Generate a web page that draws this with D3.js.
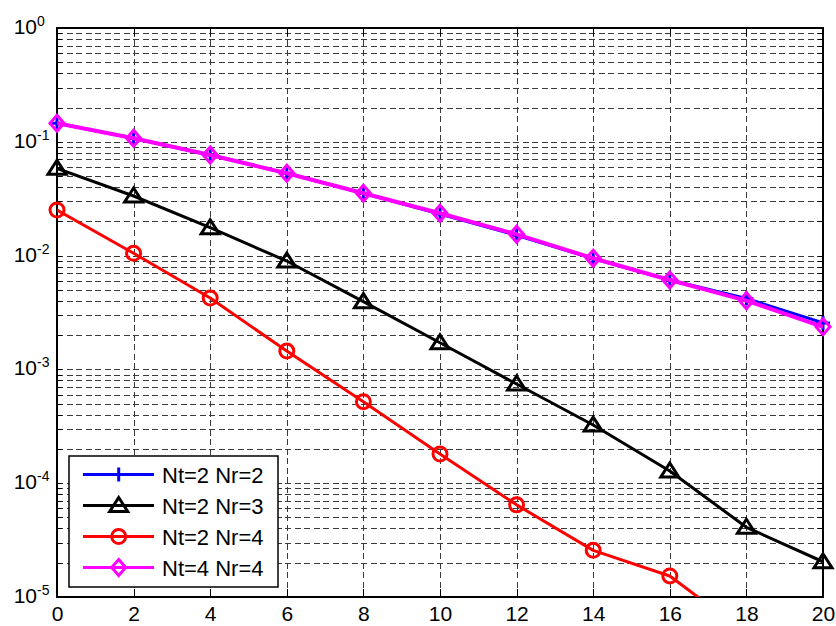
<!DOCTYPE html>
<html>
<head>
<meta charset="utf-8">
<script src="https://cdnjs.cloudflare.com/ajax/libs/d3/7.8.5/d3.min.js"></script>
<style>
  body { margin: 0; background: #fff; }
  svg { display: block; font-family: Arial, "Liberation Sans", sans-serif; }
  .grid line { stroke: #3a3a3a; stroke-width: 1; stroke-dasharray: 6,3.5; shape-rendering: crispEdges; }
  .grid path { display: none; }
  .tick-axis path { display: none; }
  .tick-axis line { stroke: #000; stroke-width: 1; shape-rendering: crispEdges; }
  .tick-axis text { font-size: 21px; fill: #000; }
</style>
</head>
<body>
<svg id="chart" width="836" height="626"></svg>
<script>
'use strict';

// SNR (dB) on x, BER on log y
const snr = [0, 2, 4, 6, 8, 10, 12, 14, 16, 18, 20];
const berNt2Nr2 = [0.1454, 0.1074, 0.0766, 0.0529, 0.0353, 0.0232, 0.0151, 0.0094, 0.0061, 0.0042, 0.00256];
const berNt2Nr3 = [0.0585, 0.0334, 0.01758, 0.00896, 0.00394, 0.001716, 0.000744, 0.000325, 0.000128, 4.1e-5, 2.04e-5];
const berNt2Nr4 = [0.02516, 0.01048, 0.00424, 0.00145, 0.00052, 0.0001805, 6.45e-5, 2.57e-5, 1.53e-5, 4.8e-6, 1.6e-6];
const berNt4Nr4 = [0.1454, 0.1074, 0.0766, 0.0529, 0.03527, 0.02353, 0.01539, 0.00947, 0.0061, 0.00402, 0.00237];
const xTicks = [0, 2, 4, 6, 8, 10, 12, 14, 16, 18, 20];
const yDecades = [-5, -4, -3, -2, -1, 0];
const seriesNames = ['Nt=2 Nr=2', 'Nt=2 Nr=3', 'Nt=2 Nr=4', 'Nt=4 Nr=4'];

const series = [
  { name: seriesNames[0], values: berNt2Nr2, color: '#0000ff', marker: 'plus', width: 3 },
  { name: seriesNames[1], values: berNt2Nr3, color: '#000000', marker: 'triangle', width: 3 },
  { name: seriesNames[2], values: berNt2Nr4, color: '#ff0000', marker: 'circle', width: 3 },
  { name: seriesNames[3], values: berNt4Nr4, color: '#ff00ff', marker: 'diamond', width: 4 }
];

const margin = { left: 57, right: 823, top: 28, bottom: 597 };
const svg = d3.select('#chart');

const x = d3.scaleLinear().domain([0, 20]).range([margin.left, margin.right]);
const y = d3.scaleLog().domain([1e-5, 1]).range([margin.bottom, margin.top]);

// all minor + major log ticks
const yTicks = [];
yDecades.forEach(k => {
  if (k === 0) { yTicks.push(1); return; }
  for (let m = 1; m <= 9; m++) yTicks.push(m * Math.pow(10, k));
});

const plotW = margin.right - margin.left;
const plotH = margin.bottom - margin.top;

svg.append('defs').append('clipPath').attr('id', 'plot-clip')
  .append('rect')
  .attr('x', margin.left).attr('y', margin.top)
  .attr('width', plotW).attr('height', plotH);

// grid
svg.append('g').attr('class', 'grid')
  .attr('transform', `translate(0,${margin.bottom})`)
  .call(d3.axisBottom(x).tickValues(xTicks.slice(1, -1)).tickSize(-plotH).tickFormat(''));
svg.append('g').attr('class', 'grid')
  .attr('transform', `translate(${margin.left},0)`)
  .call(d3.axisLeft(y).tickValues(yTicks.filter(v => v > 1e-5 && v < 1)).tickSize(-plotW).tickFormat(''));

// inward ticks on all four sides
svg.append('g').attr('class', 'tick-axis')
  .attr('transform', `translate(0,${margin.bottom})`)
  .call(d3.axisBottom(x).tickValues(xTicks).tickSize(-8).tickPadding(16).tickFormat(d3.format('d')))
  .selectAll('text').attr('dy', '0.71em').attr('y', 9);
svg.append('g').attr('class', 'tick-axis')
  .attr('transform', `translate(0,${margin.top})`)
  .call(d3.axisTop(x).tickValues(xTicks).tickSize(-8).tickFormat(''));
svg.append('g').attr('class', 'tick-axis')
  .attr('transform', `translate(${margin.left},0)`)
  .call(d3.axisLeft(y).tickValues(yTicks).tickSize(-5).tickFormat(''));
svg.append('g').attr('class', 'tick-axis')
  .attr('transform', `translate(${margin.right},0)`)
  .call(d3.axisRight(y).tickValues(yTicks).tickSize(-5).tickFormat(''));

// y labels as 10^k
const yLab = svg.append('g');
yDecades.forEach(k => {
  const ty = y(Math.pow(10, k));
  yLab.append('text')
    .attr('x', 37).attr('y', ty + 6)
    .attr('text-anchor', 'end')
    .style('font-size', '21px')
    .text('10');
  yLab.append('text')
    .attr('x', 37).attr('y', ty - 2)
    .style('font-size', '14px')
    .text(k === 0 ? '0' : '-' + Math.abs(k));
});

// box
svg.append('rect')
  .attr('x', margin.left).attr('y', margin.top)
  .attr('width', plotW).attr('height', plotH)
  .attr('fill', 'none').attr('stroke', '#000').attr('stroke-width', 2);

const drawMarker = (sel, type, color, cx, cy) => {
  const g = sel.append('g').attr('transform', `translate(${cx},${cy})`)
    .attr('fill', 'none').attr('stroke', color).attr('stroke-width', 3);
  if (type === 'plus') {
    g.append('path').attr('d', 'M-7,0H7M0,-7V7');
  } else if (type === 'triangle') {
    g.append('path').attr('d', 'M0,-8L9,6H-9Z').attr('stroke-linejoin', 'miter');
  } else if (type === 'circle') {
    g.append('circle').attr('r', 7);
  } else if (type === 'diamond') {
    g.append('path').attr('d', 'M0,-8L7,0L0,8L-7,0Z');
  }
};

const line = d3.line().x((d, i) => x(snr[i])).y(d => y(d));

const plot = svg.append('g');
series.forEach(s => {
  const g = plot.append('g').attr('clip-path', 'url(#plot-clip)');
  g.append('path')
    .datum(s.values)
    .attr('d', line)
    .attr('fill', 'none')
    .attr('stroke', s.color)
    .attr('stroke-width', s.width)
    .attr('stroke-linejoin', 'round');
  const mg = plot.append('g');
  s.values.forEach((v, i) => {
    if (v >= 1e-5) drawMarker(mg, s.marker, s.color, x(snr[i]), y(v));
  });
});

// legend
const legend = svg.append('g').attr('transform', 'translate(69,456)');
legend.append('rect')
  .attr('width', 209).attr('height', 131)
  .attr('fill', '#fff').attr('stroke', '#000').attr('stroke-width', 1.5);
series.forEach((s, i) => {
  const ly = 18.5 + i * 31;
  legend.append('line')
    .attr('x1', 14).attr('x2', 85).attr('y1', ly).attr('y2', ly)
    .attr('stroke', s.color).attr('stroke-width', s.width === 4 ? 3 : 3);
  drawMarker(legend, s.marker, s.color, 49.7, ly);
  legend.append('text')
    .attr('x', 93).attr('y', ly + 8)
    .style('font-size', '22px')
    .text(s.name);
});
</script>
</body>
</html>
